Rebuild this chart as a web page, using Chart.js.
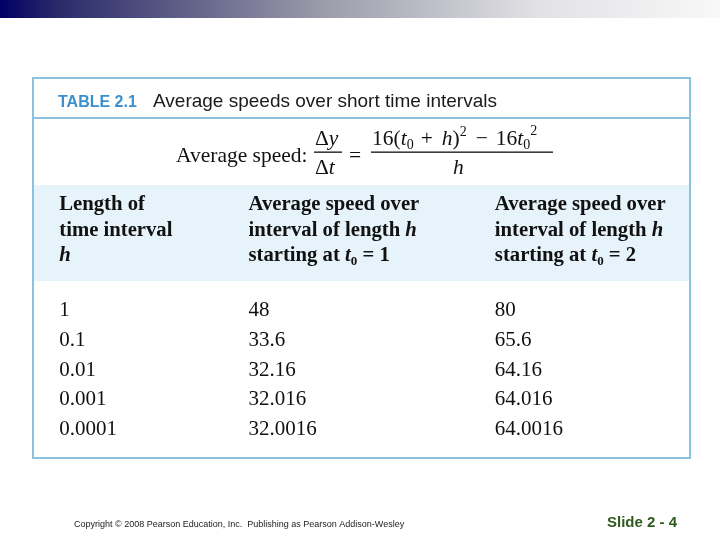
<!DOCTYPE html>
<html>
<head>
<meta charset="utf-8">
<script src="https://cdn.jsdelivr.net/npm/chart.js@4.4.1/dist/chart.umd.min.js"></script>
<style>
  html, body { margin: 0; padding: 0; background: #fff; }
  canvas { display: block; }
</style>
</head>
<body>
<canvas id="myChart" width="720" height="540"></canvas>
<script>
"use strict";

// table data
const hValues = ['1', '0.1', '0.01', '0.001', '0.0001'];
const speedAt1 = ['48', '33.6', '32.16', '32.016', '32.0016'];
const speedAt2 = ['80', '65.6', '64.16', '64.016', '64.0016'];
const columns = [hValues, speedAt1, speedAt2];

// layout / style
const colPos = [0.04, 0.328, 0.703];          // left edge of each column, as a fraction of table width
const borderColor = '#8cc3dc';
const bandColor = '#e6f3fb';
const serif = '"Liberation Serif", "Times New Roman", serif';
const sans = '"Liberation Sans", Arial, sans-serif';

// draw a line of mixed-font text (gap entries just move the pen)
function runs(ctx, x, y, parts) {
  parts.forEach(p => {
    if (p.gap) { x += p.gap; return; }
    ctx.font = p.f;
    ctx.fillStyle = p.c || '#111';
    ctx.fillText(p.t, x, y + (p.dy || 0));
    x += ctx.measureText(p.t).width;
  });
  return x;
}

const slide = {
  id: 'slide',
  beforeDraw(chart) {
    const ctx = chart.ctx;
    ctx.save();
    ctx.textBaseline = 'alphabetic';
    ctx.textAlign = 'left';

    // top gradient bar
    const g = ctx.createLinearGradient(0, 0, 720, 0);
    g.addColorStop(0, '#000066');
    g.addColorStop(0.08, '#2a2a6a');
    g.addColorStop(0.45, '#9c9cab');
    g.addColorStop(0.75, '#e2e2e6');
    g.addColorStop(1, '#f8f8f8');
    ctx.fillStyle = g;
    ctx.fillRect(0, 0, 720, 18);

    // header band
    ctx.fillStyle = bandColor;
    ctx.fillRect(33, 185, 657, 96);

    // box + title divider
    ctx.strokeStyle = borderColor;
    ctx.lineWidth = 2;
    ctx.strokeRect(33, 78, 657, 380);
    ctx.beginPath();
    ctx.moveTo(33, 118);
    ctx.lineTo(690, 118);
    ctx.stroke();

    // title
    runs(ctx, 58, 107, [{ t: 'TABLE 2.1', f: 'bold 16px ' + sans, c: '#3b8fcf' }]);
    runs(ctx, 153, 107, [{ t: 'Average speeds over short time intervals', f: '19px ' + sans, c: '#1a1a1a' }]);

    // formula
    const f = '21.5px ' + serif, fi = 'italic 21.5px ' + serif, fs = '14px ' + serif;
    runs(ctx, 176, 162, [{ t: 'Average speed:', f: f }]);
    ctx.fillStyle = '#111';
    ctx.fillRect(314, 151.5, 28, 1.3);
    runs(ctx, 315, 145, [{ t: 'Δ', f: f }, { t: 'y', f: fi }]);
    runs(ctx, 315, 174, [{ t: 'Δ', f: f }, { t: 't', f: fi }]);
    runs(ctx, 349, 162, [{ t: '=', f: f }]);
    ctx.fillStyle = '#111';
    ctx.fillRect(371, 151.5, 182, 1.3);
    runs(ctx, 372, 145, [
      { t: '16(', f: f }, { t: 't', f: fi }, { t: '0', f: fs, dy: 4 }, { gap: 7 },
      { t: '+', f: f }, { gap: 9 }, { t: 'h', f: fi }, { t: ')', f: f }, { t: '2', f: fs, dy: -9 }, { gap: 9 },
      { t: '−', f: f }, { gap: 8 }, { t: '16', f: f }, { t: 't', f: fi }, { t: '0', f: fs, dy: 4 }, { t: '2', f: fs, dy: -10 }
    ]);
    runs(ctx, 453, 174, [{ t: 'h', f: fi }]);

    // column headers
    const b = 'bold 20.7px ' + serif, bi = 'italic bold 20.7px ' + serif, bs = 'bold 13px ' + serif;
    const heads = [
      [[{ t: 'Length of', f: b }], [{ t: 'time interval', f: b }], [{ t: 'h', f: bi }]],
      [[{ t: 'Average speed over', f: b }], [{ t: 'interval of length ', f: b }, { t: 'h', f: bi }],
       [{ t: 'starting at ', f: b }, { t: 't', f: bi }, { t: '0', f: bs, dy: 4 }, { t: ' = 1', f: b }]],
      [[{ t: 'Average speed over', f: b }], [{ t: 'interval of length ', f: b }, { t: 'h', f: bi }],
       [{ t: 'starting at ', f: b }, { t: 't', f: bi }, { t: '0', f: bs, dy: 4 }, { t: ' = 2', f: b }]]
    ];
    const xs = chart.scales.x;
    heads.forEach((lines, c) => {
      const x = xs.getPixelForValue(colPos[c]);
      lines.forEach((ln, i) => runs(ctx, x, 210 + i * 25.5, ln));
    });

    // footer
    runs(ctx, 74, 527, [{ t: 'Copyright © 2008 Pearson Education, Inc.  Publishing as Pearson Addison-Wesley', f: '9px ' + sans, c: '#222' }]);
    runs(ctx, 607, 527, [{ t: 'Slide 2 - 4', f: 'bold 15px ' + sans, c: '#2f5a1e' }]);
    ctx.restore();
  },
  afterDatasetsDraw(chart) {
    const ctx = chart.ctx;
    ctx.save();
    ctx.font = '21px ' + serif;
    ctx.fillStyle = '#111';
    ctx.textAlign = 'left';
    ctx.textBaseline = 'middle';
    chart.data.datasets.forEach((ds, d) => {
      chart.getDatasetMeta(d).data.forEach((pt, i) => {
        ctx.fillText(ds.text[i], pt.x, pt.y);
      });
    });
    ctx.restore();
  }
};

const ctx = document.getElementById('myChart').getContext('2d');
const myChart = new Chart(ctx, {
  type: 'scatter',
  data: {
    datasets: columns.map((vals, c) => ({
      label: 'col' + c,
      text: vals,
      data: vals.map((v, i) => ({ x: colPos[c], y: hValues[i] })),
      pointRadius: 0
    }))
  },
  options: {
    responsive: false,
    animation: false,
    devicePixelRatio: 1,
    layout: { padding: { left: 33, right: 30, top: 296, bottom: 96 } },
    plugins: { legend: { display: false }, tooltip: { enabled: false } },
    scales: {
      x: { type: 'linear', min: 0, max: 1, display: false },
      y: { type: 'category', labels: hValues, offset: true, display: false }
    }
  },
  plugins: [slide]
});
</script>
</body>
</html>
